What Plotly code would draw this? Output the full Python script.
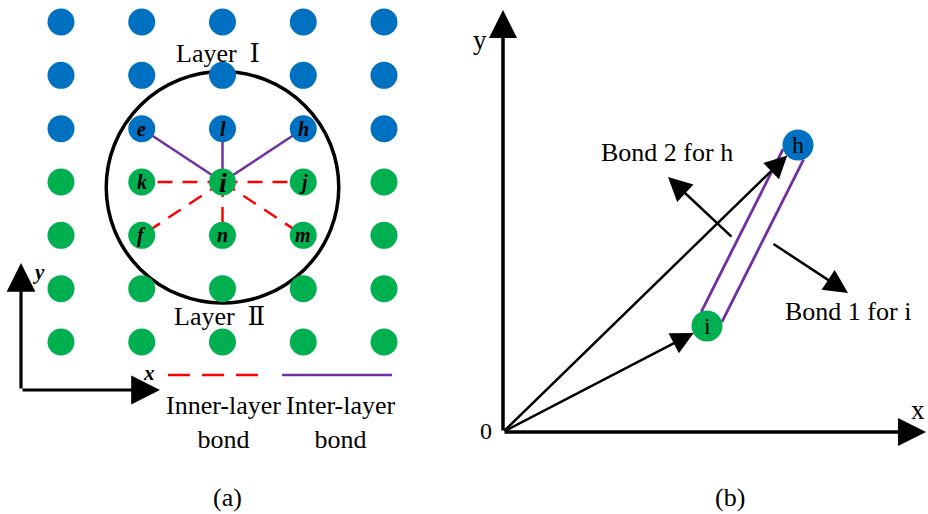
import numpy as np
import plotly.graph_objects as go

# ---------------- panel (a): two-layer lattice ----------------
lattice_cols = [0, 1, 2, 3, 4]
layer1_rows = [4, 5, 6]          # blue layer
layer2_rows = [0, 1, 2, 3]       # green layer
center_atom = (2, 3)             # atom i
inter_neighbors = {"e": (1, 4), "l": (2, 4), "h": (3, 4)}
inner_neighbors = {"k": (1, 3), "j": (3, 3), "f": (1, 2), "n": (2, 2), "m": (3, 2)}
cutoff_center = (2.0, 2.9)
cutoff_half = (1.44, 2.17)

# ---------------- panel (b): bond vectors ----------------
pos_h = (295, 287)
pos_i = (204, 106)
bond_offset = 11.5
bond2_arrow = [(230, 194), (165, 255)]
bond1_arrow = [(269, 189), (345, 139)]

BLUE = "#0070C0"
GREEN = "#00B050"
PURPLE = "#7030A0"
RED = "#FF0000"
SERIF = "Liberation Serif, Times New Roman, DejaVu Serif, serif"
W, H = 928, 514

fig = go.Figure()

# lattice-unit axes for panel (a)
SX, SY = 80.75, 53.33
X0, Y0 = 61, 342
xa_rng = [-X0 / SX, (460 - X0) / SX]
ya_rng = [(Y0 - H) / SY, Y0 / SY]

# bonds drawn first so atoms sit on top
for name, (c, r) in inter_neighbors.items():
    fig.add_trace(go.Scatter(x=[center_atom[0], c], y=[center_atom[1], r], mode="lines",
                             line=dict(color=PURPLE, width=2.5), xaxis="x", yaxis="y",
                             hoverinfo="skip", showlegend=False))
for name, (c, r) in inner_neighbors.items():
    fig.add_trace(go.Scatter(x=[center_atom[0], c], y=[center_atom[1], r], mode="lines",
                             line=dict(color=RED, width=2.5, dash="15px,10px"), xaxis="x", yaxis="y",
                             hoverinfo="skip", showlegend=False))

for rows, color in ((layer1_rows, BLUE), (layer2_rows, GREEN)):
    gx, gy = np.meshgrid(lattice_cols, rows)
    fig.add_trace(go.Scatter(x=gx.ravel(), y=gy.ravel(), mode="markers",
                             marker=dict(size=27, color=color, line=dict(width=0)),
                             xaxis="x", yaxis="y", hoverinfo="skip", showlegend=False))

# cutoff circle
cx, cy = cutoff_center
hx, hy = cutoff_half
fig.add_shape(type="circle", xref="x", yref="y", x0=cx - hx, x1=cx + hx, y0=cy - hy, y1=cy + hy,
              line=dict(color="black", width=3.5), layer="below")

# atom letters
for name, (c, r) in {**inter_neighbors, **inner_neighbors}.items():
    fig.add_annotation(x=c, y=r, xref="x", yref="y", text=f"<b><i>{name}</i></b>", showarrow=False,
                       xanchor="center", yanchor="middle",
                       font=dict(family=SERIF, size=20, color="black"))
fig.add_annotation(x=center_atom[0], y=center_atom[1], xref="x", yref="y", text="<b><i>i</i></b>",
                   showarrow=False, xanchor="center", yanchor="middle",
                   font=dict(family=SERIF, size=28, color="black"))

# legend samples
leg_y = (Y0 - 375) / SY
fig.add_trace(go.Scatter(x=[(168 - X0) / SX, (258 - X0) / SX], y=[leg_y, leg_y], mode="lines",
                         line=dict(color=RED, width=2.5, dash="22px,12px"), xaxis="x", yaxis="y",
                         hoverinfo="skip", showlegend=False))
fig.add_trace(go.Scatter(x=[(282 - X0) / SX, (392 - X0) / SX], y=[leg_y, leg_y], mode="lines",
                         line=dict(color=PURPLE, width=2.5), xaxis="x", yaxis="y",
                         hoverinfo="skip", showlegend=False))

# frame arrows of panel (a)
ox, oy = (21 - X0) / SX, (Y0 - 390) / SY
for tx, ty in (((160 - X0) / SX, oy), (ox, (Y0 - 263) / SY)):
    fig.add_annotation(x=tx, y=ty, ax=ox, ay=oy, xref="x", yref="y", axref="x", ayref="y",
                       text="", showarrow=True, arrowhead=2, arrowsize=1.8, arrowwidth=3.2,
                       arrowcolor="black")

# ---------------- panel (b) ----------------
OX, OY = 503, 432
xb_rng = [460 - OX, W - OX]
yb_rng = [OY - H, OY]

hv = np.array(pos_h, float)
iv = np.array(pos_i, float)
u = (hv - iv) / np.linalg.norm(hv - iv)
nrm = np.array([u[1], -u[0]])
L = np.linalg.norm(hv - iv)
for s in (-1, 1):
    p0 = iv + u * 0.05 * L + s * bond_offset * nrm
    p1 = iv + u * 0.948 * L + s * bond_offset * nrm
    fig.add_trace(go.Scatter(x=[p0[0], p1[0]], y=[p0[1], p1[1]], mode="lines",
                             line=dict(color=PURPLE, width=2.8), xaxis="x2", yaxis="y2",
                             hoverinfo="skip", showlegend=False))

fig.add_trace(go.Scatter(x=[pos_h[0], pos_i[0]], y=[pos_h[1], pos_i[1]], mode="markers",
                         marker=dict(size=31, color=[BLUE, GREEN], line=dict(width=0)),
                         xaxis="x2", yaxis="y2", hoverinfo="skip", showlegend=False))
for name, p in (("h", pos_h), ("i", pos_i)):
    fig.add_annotation(x=p[0], y=p[1], xref="x2", yref="y2", text=name, showarrow=False,
                       xanchor="center", yanchor="middle",
                       font=dict(family=SERIF, size=24, color="black"))

# position vectors from the origin, stopping at the atom edge
for p in (hv, iv):
    tip = p - 15 * p / np.linalg.norm(p)
    fig.add_annotation(x=tip[0], y=tip[1], ax=0, ay=0, xref="x2", yref="y2", axref="x2", ayref="y2",
                       text="", showarrow=True, arrowhead=2, arrowsize=1.8, arrowwidth=2.5,
                       arrowcolor="black")

for (a0, a1) in (bond2_arrow, bond1_arrow):
    fig.add_annotation(x=a1[0], y=a1[1], ax=a0[0], ay=a0[1], xref="x2", yref="y2",
                       axref="x2", ayref="y2", text="", showarrow=True, arrowhead=2,
                       arrowsize=1.9, arrowwidth=2.5, arrowcolor="black")

# coordinate axes of panel (b)
for tx, ty in ((W - 2 - OX, 0), (0, OY - 10)):
    fig.add_annotation(x=tx, y=ty, ax=0, ay=0, xref="x2", yref="y2", axref="x2", ayref="y2",
                       text="", showarrow=True, arrowhead=2, arrowsize=1.6, arrowwidth=3.5,
                       arrowcolor="black")


def label(px, py, text, size=26, **kw):
    fig.add_annotation(x=px / W, y=1 - py / H, xref="paper", yref="paper", text=text,
                       showarrow=False, xanchor="center", yanchor="middle",
                       font=dict(family=SERIF, size=size, color="black"), **kw)


label(218, 54, "Layer  Ⅰ")
label(219, 316, "Layer  Ⅱ")
label(38, 272, "<b><i>y</i></b>", size=21)
label(149, 373, "<b><i>x</i></b>", size=21)
label(223, 422, "Inner-layer<br>bond")
label(341, 422, "Inter-layer<br>bond")
label(227, 497, "(a)")

label(480, 40, "y", size=27)
label(486, 431, "0", size=24)
label(918, 410, "x", size=27)
label(667, 152, "Bond 2 for h")
label(848, 311, "Bond 1 for i")
label(730, 497, "(b)")

hidden = dict(visible=False, showgrid=False, zeroline=False, fixedrange=True)
fig.update_layout(
    width=W, height=H, margin=dict(l=0, r=0, t=0, b=0),
    paper_bgcolor="white", plot_bgcolor="white", showlegend=False,
    xaxis=dict(domain=[0, 460 / W], range=xa_rng, **hidden),
    yaxis=dict(domain=[0, 1], range=ya_rng, **hidden),
    xaxis2=dict(domain=[460 / W, 1], range=xb_rng, anchor="y2", **hidden),
    yaxis2=dict(domain=[0, 1], range=yb_rng, anchor="x2", **hidden),
)

fig.write_html("out.html")
